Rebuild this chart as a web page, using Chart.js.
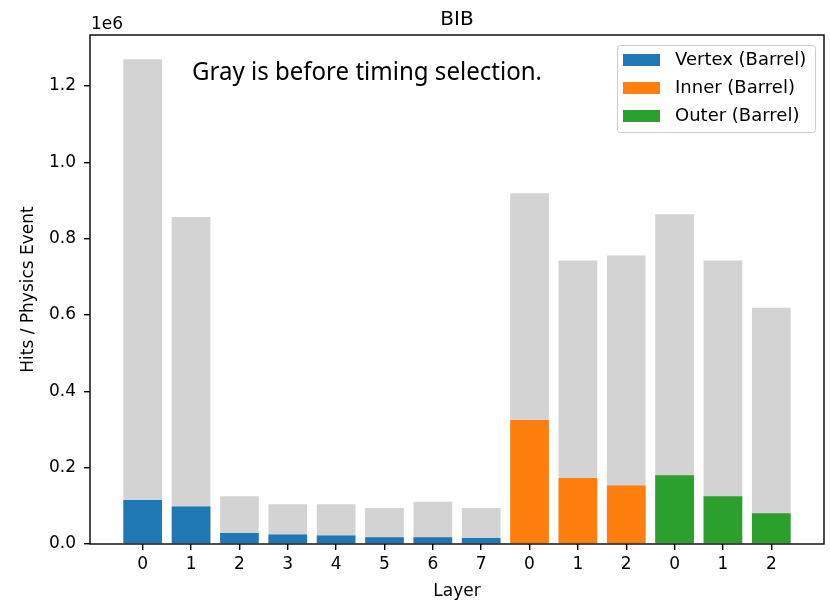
<!DOCTYPE html>
<html>
<head>
<meta charset="utf-8">
<title>BIB</title>
<script src="https://cdn.jsdelivr.net/npm/chart.js@4/dist/chart.umd.min.js"></script>
<style>
  html, body { margin: 0; padding: 0; background: #fff; }
  canvas { display: block; }
</style>
</head>
<body>
<canvas id="bib" width="830" height="601"></canvas>
<script>
// layer labels along x, one bar per layer
const layers = ["0", "1", "2", "3", "4", "5", "6", "7", "0", "1", "2", "0", "1", "2"];

// hits / physics event before timing selection (gray)
const beforeTiming = [1.270e6, 0.857e6, 0.125e6, 0.104e6, 0.104e6, 0.0945e6, 0.111e6, 0.0945e6,
                      0.919e6, 0.743e6, 0.756e6, 0.864e6, 0.743e6, 0.619e6];

// after timing selection, per subdetector
const vertexHits = [0.1155e6, 0.098e6, 0.029e6, 0.025e6, 0.022e6, 0.018e6, 0.018e6, 0.016e6];
const innerHits = [0.325e6, 0.173e6, 0.153e6];
const outerHits = [0.180e6, 0.125e6, 0.0806e6];

const yTicks = [0, 0.2e6, 0.4e6, 0.6e6, 0.8e6, 1.0e6, 1.2e6];

const groups = [
  { label: "Vertex (Barrel)", color: "#1f77b4", values: vertexHits },
  { label: "Inner (Barrel)", color: "#ff7f0e", values: innerHits },
  { label: "Outer (Barrel)", color: "#2ca02c", values: outerHits },
];

const FONT = "'DejaVu Sans', sans-serif";

// matplotlib-style x range: bars are 0.8 wide, 5% margin each side
const barWidth = 0.8;
const span = (layers.length - 1) + barWidth;
const xMin = -barWidth / 2 - 0.05 * span;
const xMax = layers.length - 1 + barWidth / 2 + 0.05 * span;
const yMax = 1.05 * Math.max(...beforeTiming);

let offset = 0;
const colored = groups.map(g => {
  const ds = {
    label: g.label,
    data: g.values.map((v, i) => ({ x: offset + i, y: v })),
    backgroundColor: g.color,
    order: 0,
  };
  offset += g.values.length;
  return ds;
});

const gray = {
  label: "before",
  data: beforeTiming.map((v, i) => ({ x: i, y: v })),
  backgroundColor: "#d3d3d3",
  order: 1,
};

const decorations = {
  id: "decorations",
  afterDraw(chart) {
    const { ctx, chartArea: a } = chart;
    ctx.save();

    // axes frame
    ctx.strokeStyle = "#000";
    ctx.lineWidth = 1.4;
    ctx.strokeRect(a.left, a.top, a.right - a.left, a.bottom - a.top);

    ctx.fillStyle = "#000";
    ctx.textAlign = "center";
    ctx.textBaseline = "alphabetic";
    ctx.font = "20px " + FONT;
    ctx.fillText("BIB", (a.left + a.right) / 2, 25);

    ctx.font = "17px " + FONT;
    ctx.fillText("Layer", (a.left + a.right) / 2, 596);

    ctx.textAlign = "left";
    ctx.fillText("1e6", a.left + 1, 29);

    ctx.save();
    ctx.translate(29, (a.top + a.bottom) / 2);
    ctx.rotate(-Math.PI / 2);
    ctx.textAlign = "center";
    ctx.textBaseline = "middle";
    ctx.fillText("Hits / Physics Event", 0, 0);
    ctx.restore();

    // note
    ctx.font = "25px 'Noto Sans', sans-serif";
    ctx.textAlign = "left";
    ctx.fillText("Gray is before timing selection.", 192, 80, 350);

    // legend
    const lx = 617, ly = 45, lw = 198, lh = 87;
    ctx.beginPath();
    ctx.roundRect(lx + 0.5, ly + 0.5, lw, lh, 3);
    ctx.fillStyle = "rgba(255,255,255,0.8)";
    ctx.fill();
    ctx.strokeStyle = "#cccccc";
    ctx.lineWidth = 1;
    ctx.stroke();

    ctx.font = "18px " + FONT;
    ctx.textBaseline = "middle";
    groups.forEach((g, i) => {
      const cy = 60 + i * 28;
      ctx.fillStyle = g.color;
      ctx.fillRect(623, cy - 6, 37, 12);
      ctx.fillStyle = "#000";
      ctx.fillText(g.label, 675, cy);
    });

    ctx.restore();
  },
};

new Chart(document.getElementById("bib"), {
  type: "bar",
  data: { datasets: [...colored, gray] },
  options: {
    responsive: false,
    animation: false,
    layout: { padding: { left: 0, top: 35, right: 6, bottom: 0 } },
    datasets: {
      bar: { grouped: false, categoryPercentage: 1, barPercentage: barWidth },
    },
    plugins: {
      legend: { display: false },
      title: { display: false },
      tooltip: { enabled: false },
    },
    scales: {
      x: {
        type: "linear",
        offset: false,
        min: xMin,
        max: xMax,
        afterBuildTicks(scale) {
          scale.ticks = layers.map((_, i) => ({ value: i }));
        },
        afterFit(scale) { scale.height = 57; },
        ticks: {
          callback: (v, i) => layers[i],
          autoSkip: false,
          maxRotation: 0,
          padding: 4,
          color: "#000",
          font: { family: FONT, size: 17 },
        },
        grid: { offset: false, drawOnChartArea: false, drawTicks: true, tickLength: 6, color: "#000", lineWidth: 1.4 },
        border: { display: false },
      },
      y: {
        min: 0,
        max: yMax,
        afterBuildTicks(scale) {
          scale.ticks = yTicks.map(v => ({ value: v }));
        },
        afterFit(scale) { scale.width = 90; },
        ticks: {
          callback: v => (v / 1e6).toFixed(1),
          padding: 8,
          color: "#000",
          font: { family: FONT, size: 17 },
        },
        grid: { drawOnChartArea: false, drawTicks: true, tickLength: 6, color: "#000", lineWidth: 1.4 },
        border: { display: false },
      },
    },
  },
  plugins: [decorations],
});
</script>
</body>
</html>
